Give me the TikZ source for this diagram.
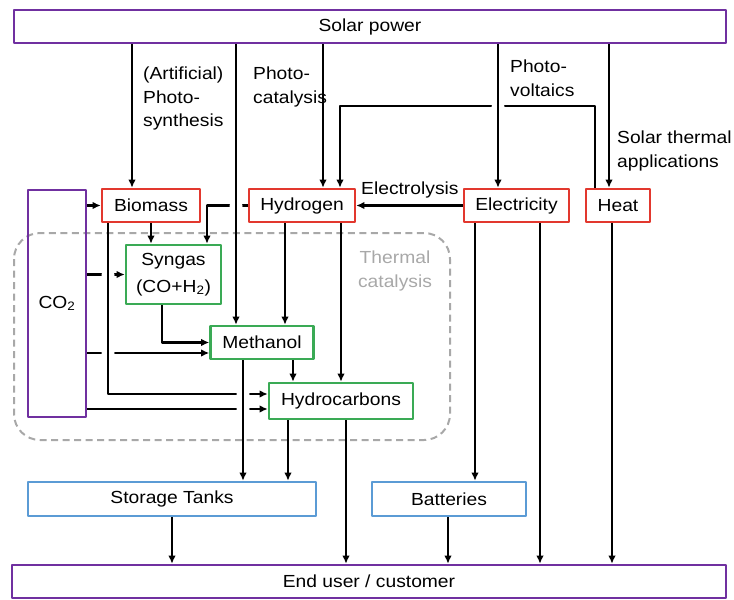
\documentclass[tikz,border=0pt]{standalone}
\usepackage{fontspec}
\setmainfont{Liberation Sans}[FakeStretch=1.1]
\usetikzlibrary{arrows.meta}
\definecolor{sunpurple}{HTML}{7030A0}
\definecolor{srcred}{HTML}{E2382E}
\definecolor{fuelgreen}{HTML}{3AAA55}
\definecolor{storeblue}{HTML}{5B9BD5}
\definecolor{catgray}{HTML}{A8A8A8}
\tikzset{
  every picture/.style={x=1pt, y=-1pt, line join=round, >={Latex[length=8pt,width=7.5pt]},
    font=\fontsize{17.5}{23.5}\selectfont},
  box/.style={draw, line width=2.6pt, minimum height=33pt, inner sep=0pt, align=center},
  sun/.style={box, draw=sunpurple},
  source/.style={box, draw=srcred},
  fuel/.style={box, draw=fuelgreen},
  tank/.style={box, draw=storeblue},
  flow/.style={->, line width=2.1pt},
  lbl/.style={align=left, anchor=north west, inner sep=0pt},
}

\begin{document}
\begin{tikzpicture}
\useasboundingbox (0,0) rectangle (734,600);
% thermal catalysis region
\draw[catgray, line width=2pt, dash pattern=on 7pt off 4.5pt, rounded corners=26pt] (14,233) rectangle (450,440);
\node[text=catgray, align=center] (thermal) at (395,271) {Thermal\\catalysis};

% boxes
\node[sun, minimum width=712pt] (solar) at (370,26.5) {Solar power};
\node[sun, minimum width=714pt] (enduser) at (369,581.5) {End user / customer};
\node[sun, minimum width=58pt, minimum height=227pt] (co2) at (57,303.5) {CO\textsubscript{2}};
\node[source, minimum width=98pt] (biomass) at (151,205.5) {Biomass};
\node[source, minimum width=106pt] (hydrogen) at (302,205.5) {Hydrogen};
\node[source, minimum width=105pt] (electricity) at (516.5,205.5) {Electricity};
\node[source, minimum width=64pt] (heat) at (618,205.5) {Heat};
\node[fuel, minimum width=95pt, minimum height=59pt] (syngas) at (173.5,274.5) {Syngas\\[3pt](CO+H\textsubscript{2})};
\node[fuel, minimum width=103pt] (methanol) at (262,342.5) {Methanol};
\node[fuel, minimum width=144pt, minimum height=36pt] (hydrocarbons) at (341,401) {Hydrocarbons};
\node[tank, minimum width=288pt, minimum height=34pt] (storage) at (172,499) {Storage Tanks};
\node[tank, minimum width=154pt, minimum height=34pt] (batteries) at (449,499) {Batteries};

% route names
\node[lbl] (photosyn) at (143,67) {(Artificial)\\Photo-\\synthesis};
\node[lbl] (photocat) at (253,67) {Photo-\\catalysis};
\node[lbl] (photovolt) at (510,60) {Photo-\\voltaics};
\node[lbl] (thermapp) at (617,131) {Solar thermal\\applications};
\node[anchor=base west, inner sep=0pt] (electrolysis) at (361,194) {Electrolysis};

% CO2 feeds and side routes
\draw[flow] (co2.east |- biomass.west) -- (biomass.west);
\draw[flow] (co2.east |- syngas.west) -- (syngas.west);
\draw[flow] ([yshift=-10.5pt]methanol.west -| co2.east) -- ([yshift=-10.5pt]methanol.west);
\draw[flow] (hydrogen.west) -| (syngas.north -| 207,0);
\draw[flow] (electricity.west) -- (hydrogen.east);
\draw[flow] (heat.north -| 595,0) -- ++(0,-82) -| (hydrogen.north -| 340,0);
\draw[flow] (syngas.south -| 162,0) |- (methanol.west);
% bridges
\foreach \p in {(108,275),(108,353),(236,206),(498,107)} \fill[white] \p circle (6.5pt);
\draw[flow] (biomass.south -| 108,0) |- ([yshift=7pt]hydrocarbons.west);
\draw[flow] ([yshift=-8pt]hydrocarbons.west -| co2.east) -- ([yshift=-8pt]hydrocarbons.west);
\foreach \p in {(243,394),(243,409)} \fill[white] \p circle (6.5pt);

% straight drops
\foreach \a/\b/\x in {solar/biomass/132, solar/methanol/236, solar/hydrogen/323, solar/electricity/498,
    solar/heat/609, biomass/syngas/151, hydrogen/methanol/285, hydrogen/hydrocarbons/341,
    methanol/hydrocarbons/293, methanol/storage/243, hydrocarbons/storage/288,
    hydrocarbons/enduser/346, electricity/batteries/475, electricity/enduser/540,
    heat/enduser/612, storage/enduser/172, batteries/enduser/448}
  \draw[flow] (\a.south -| \x,0) -- (\b.north -| \x,0);
\end{tikzpicture}
\end{document}
